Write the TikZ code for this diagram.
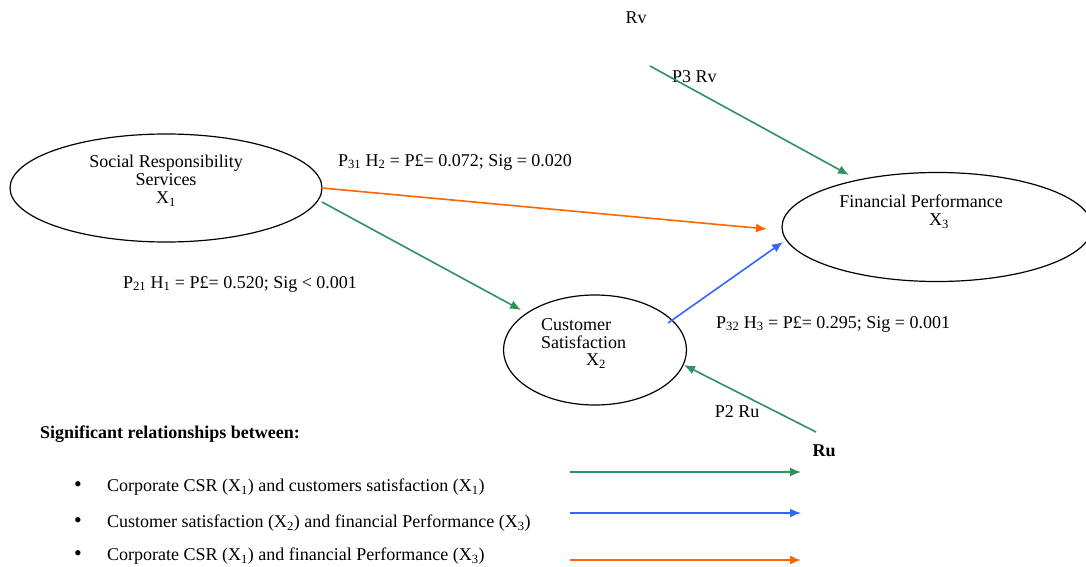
\documentclass[tikz,border=0pt]{standalone}
\usepackage{fontspec}
\setmainfont{Liberation Serif}
\usetikzlibrary{shapes.geometric,arrows.meta}
\definecolor{cgreen}{RGB}{46,145,96}
\definecolor{cblue}{RGB}{51,102,255}
\definecolor{corange}{RGB}{255,102,0}
\begin{document}
\begin{tikzpicture}[x=1pt,y=-1pt,
  oval/.style={draw=black,line width=1.2pt,ellipse,inner sep=0pt},
  lbl/.style={inner sep=0pt,font=\fontsize{18}{18}\selectfont},
  conn/.style={line width=1.6pt,-{Latex[length=11pt,width=9pt]}}]
\useasboundingbox (0,0) rectangle (1086,567);
% ellipses
\node[oval,minimum width=312pt,minimum height=108pt] (X1) at (166,188) {};
\node[oval,minimum width=310pt,minimum height=109pt] (X3) at (937,227) {};
\node[oval,minimum width=183pt,minimum height=110pt] (X2) at (595,350) {};
% ellipse texts
\node[lbl,align=center] (t1) at (166,181) {Social Responsibility\\Services\\X\textsubscript{1}};
\node[lbl,align=center] (t3) at (921,212) {Financial Performance\\\hspace*{36pt}X\textsubscript{3}};
\node[lbl,anchor=west] (t2a) at (541,325) {Customer};
\node[lbl,anchor=west] (t2b) at (541,342) {Satisfaction};
\node[lbl] (t2c) at (596,361) {X\textsubscript{2}};
% labels
\node[lbl] (rv) at (636,18) {Rv};
\node[lbl,anchor=west] (p3rv) at (672,77) {P3 Rv};
\node[lbl] (p31) at (455,162) {P\textsubscript{31} H\textsubscript{2} = P£= 0.072; Sig = 0.020};
\node[lbl] (p21) at (240,284) {P\textsubscript{21} H\textsubscript{1} = P£= 0.520; Sig {\textless} 0.001};
\node[lbl,anchor=west] (p32) at (716,324) {P\textsubscript{32} H\textsubscript{3} = P£= 0.295; Sig = 0.001};
\node[lbl] (p2ru) at (737,412) {P2 Ru};
\node[lbl,font=\fontsize{18}{18}\bfseries] (ru) at (824,451) {Ru};
% coordinates
\coordinate (rvs) at (650,66);
\coordinate (rve) at (849,175);
\coordinate (rus) at (816,432);
\coordinate (x1a) at (322,188);
\coordinate (x1b) at (322,202);
\coordinate (x3a) at (767,229);
\coordinate (x3b) at (783,242);
\coordinate (x2a) at (521,310);
\coordinate (x2b) at (668,323);
\coordinate (x2c) at (684,365);
% connectors
\draw[conn,corange] (x1a) -- (x3a);
\draw[conn,cgreen] (x1b) -- (x2a);
\draw[conn,cblue] (x2b) -- (x3b);
\draw[conn,cgreen] (rvs) -- (rve);
\draw[conn,cgreen] (rus) -- (x2c);
% legend
\node[lbl,anchor=west,font=\fontsize{18}{18}\bfseries] (leg) at (40,434) {Significant relationships between:};
\node[lbl,font=\fontsize{22}{22}\selectfont] (b1) at (78,487) {\textbullet};
\node[lbl,font=\fontsize{22}{22}\selectfont] (b2) at (78,523) {\textbullet};
\node[lbl,font=\fontsize{22}{22}\selectfont] (b3) at (78,556) {\textbullet};
\node[lbl,anchor=west] (l1) at (107,487) {Corporate CSR (X\textsubscript{1}) and customers satisfaction (X\textsubscript{1})};
\node[lbl,anchor=west] (l2) at (107,523) {Customer satisfaction (X\textsubscript{2}) and financial Performance (X\textsubscript{3})};
\node[lbl,anchor=west] (l3) at (107,556) {Corporate CSR (X\textsubscript{1}) and financial Performance (X\textsubscript{3})};
\coordinate (g1s) at (570,472); \coordinate (g1e) at (801,472);
\coordinate (g2s) at (570,513); \coordinate (g2e) at (801,513);
\coordinate (g3s) at (570,560); \coordinate (g3e) at (801,560);
\draw[conn,cgreen] (g1s) -- (g1e);
\draw[conn,cblue] (g2s) -- (g2e);
\draw[conn,corange] (g3s) -- (g3e);
\end{tikzpicture}
\end{document}
